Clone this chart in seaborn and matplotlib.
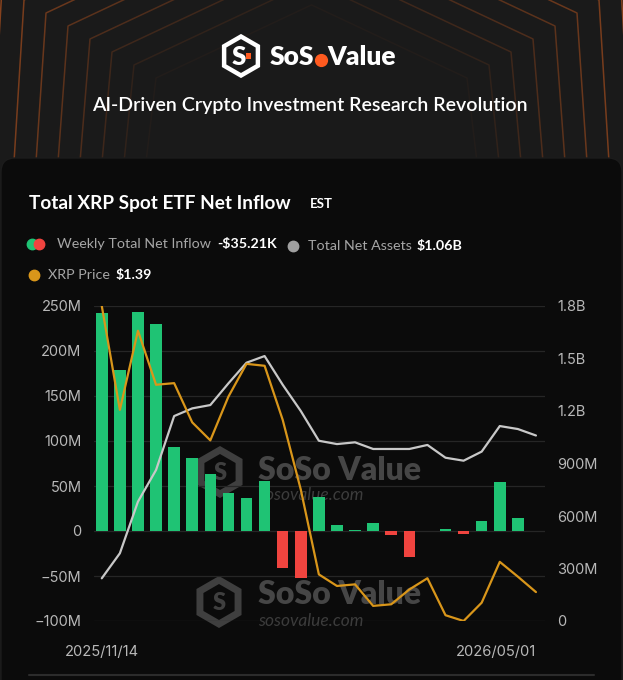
import numpy as np
import pandas as pd
import matplotlib.pyplot as plt
import seaborn as sns
from matplotlib.patches import FancyBboxPatch, RegularPolygon, Rectangle
from matplotlib.lines import Line2D

# weekly data
dates = ["2025/11/14", "2025/11/21", "2025/11/28", "2025/12/05", "2025/12/12",
         "2025/12/19", "2025/12/26", "2026/01/02", "2026/01/09", "2026/01/16",
         "2026/01/23", "2026/01/30", "2026/02/06", "2026/02/13", "2026/02/20",
         "2026/02/27", "2026/03/06", "2026/03/13", "2026/03/20", "2026/03/27",
         "2026/04/03", "2026/04/10", "2026/04/17", "2026/04/24", "2026/05/01"]
net_inflow_m = [242.6, 179.0, 243.0, 230.0, 93.0, 80.7, 63.3, 42.6, 37.0, 55.9,
                -40.7, -51.8, 38.0, 6.7, 1.3, 8.5, -4.4, -28.5, 0.5, 2.2,
                -3.7, 11.0, 55.0, 15.0, -0.03521]
net_assets_b = [0.244, 0.387, 0.682, 0.863, 1.171, 1.215, 1.234, 1.358, 1.476, 1.514,
                1.350, 1.200, 1.030, 1.011, 1.021, 0.983, 0.983, 0.983, 1.006, 0.933,
                0.916, 0.968, 1.114, 1.097, 1.060]
xrp_price = [2.280, 1.957, 2.203, 2.035, 2.040, 1.918, 1.862, 1.998, 2.100, 2.094,
             1.926, 1.709, 1.445, 1.409, 1.414, 1.347, 1.352, 1.398, 1.433, 1.318,
             1.300, 1.357, 1.484, 1.438, 1.390]

left_ticks = [250, 200, 150, 100, 50, 0, -50, -100]
left_labels = ["250M", "200M", "150M", "100M", "50M", "0", "\u221250M", "\u2212100M"]
right_ticks = [1.8, 1.5, 1.2, 0.9, 0.6, 0.3, 0]
right_labels = ["1.8B", "1.5B", "1.2B", "900M", "600M", "300M", "0"]

GREEN = "#1fc374"
RED = "#f0443f"
ORANGE = "#d9961a"
GREY_LINE = "#c8c8c8"
TICK = "#b8b8b8"

sns.set_style("dark")
plt.rcParams['font.family'] = ['Lato', 'DejaVu Sans']

W, H = 623, 680
fig = plt.figure(figsize=(W / 100, H / 100), dpi=100)
fig.patch.set_facecolor("#1a1a1a")

# background layer in pixel coordinates (y down)
bg = fig.add_axes([0, 0, 1, 1], zorder=0)
bg.set_xlim(0, W)
bg.set_ylim(H, 0)
bg.axis("off")

# header line pattern
cx = 311.5
for k in range(9):
    xb = 146 - 22 * k
    xc = xb + 10
    yc = 78 - 13 * k
    ya = yc - 0.47 * (cx - xc)
    xs = [xb, xc, cx, 2 * cx - xc, 2 * cx - xb]
    ys = [162, yc, ya, yc, 162]
    bg.plot(xs, ys, color="#c2581f", lw=1.1, alpha=0.05 + 0.085 * k, zorder=1)

# card
bg.add_patch(FancyBboxPatch((1, 158), W - 2, 560, boxstyle="round,pad=0,rounding_size=14",
                            facecolor="#0b0b0b", edgecolor="#1c1c1c", lw=1, zorder=2))
bg.plot([29, 594], [675, 675], color="#2c2c2c", lw=1.5, zorder=3)


def logo_icon(x, y, r, color, face, lw, accent=None, z=4):
    bg.add_patch(RegularPolygon((x, y), 6, radius=r, facecolor=face,
                                edgecolor=color, lw=lw, zorder=z))
    bg.text(x - r * 0.12, y + r * 0.05, "S", color=color, fontsize=r * 0.95,
            fontweight="heavy", ha="center", va="center", zorder=z + 1)
    if accent:
        bg.add_patch(Rectangle((x + r * 0.25, y - r * 0.15), r * 0.28, r * 0.28,
                               facecolor=accent, edgecolor="none", zorder=z + 1))


# header logo
logo_icon(241, 56, 19.5, "white", "#1a1a1a", 3.2, accent="#ff5a1f")
fig.canvas.draw()
rend = fig.canvas.get_renderer()
inv = bg.transData.inverted()
t1 = bg.text(270, 57, "SoS", color="white", fontsize=19, fontweight="heavy",
             ha="left", va="center", zorder=5)
x1 = inv.transform((t1.get_window_extent(rend).x1, 0))[0]
bg.add_line(Line2D([x1 + 6.5], [60], marker="o", ms=8.5, color="#ff5a1f",
                   linestyle="none", zorder=5))
bg.text(x1 + 13, 57, "Value", color="white", fontsize=19, fontweight="heavy",
        ha="left", va="center", zorder=5)

bg.text(cx - 2, 105, "AI-Driven Crypto Investment Research Revolution", color="white",
        fontsize=14.1, fontweight="semibold", ha="center", va="center", zorder=5)

# card title and legend
bg.text(29, 204, "Total XRP Spot ETF Net Inflow", color="white", fontsize=13.7,
        fontweight="bold", ha="left", va="center", zorder=5)
bg.text(310, 204, "EST", color="white", fontsize=9.5, fontweight="bold",
        ha="left", va="center", zorder=5)

def dot(x, y, c, ms=7.5):
    bg.add_line(Line2D([x], [y], marker="o", ms=ms, color=c, linestyle="none", zorder=5))

dot(32, 244, GREEN)
dot(38.5, 244, RED)
bg.text(57, 244, "Weekly Total Net Inflow", color="#a6a6a6", fontsize=10.3,
        ha="left", va="center", zorder=5)
bg.text(217, 244, "-$35.21K", color="white", fontsize=10.3, fontweight="bold",
        ha="left", va="center", zorder=5)
dot(293, 246, "#a0a0a0")
bg.text(308, 246, "Total Net Assets", color="#a6a6a6", fontsize=10.3,
        ha="left", va="center", zorder=5)
bg.text(417, 246, "$1.06B", color="white", fontsize=10.3, fontweight="bold",
        ha="left", va="center", zorder=5)
dot(34, 275, ORANGE)
bg.text(48, 275, "XRP Price", color="#a6a6a6", fontsize=10.3,
        ha="left", va="center", zorder=5)
bg.text(116, 275, "$1.39", color="white", fontsize=10.3, fontweight="bold",
        ha="left", va="center", zorder=5)

# watermarks behind the chart
for (ix, iy, ty, uy) in [(220, 472, 470, 495), (219, 602, 595, 621)]:
    bg.add_patch(RegularPolygon((ix, iy), 6, radius=22, facecolor="none",
                                edgecolor="#3f3f3f", lw=5, zorder=3))
    bg.text(ix, iy + 1, "S", color="#3f3f3f", fontsize=17, fontweight="heavy",
            ha="center", va="center", zorder=3)
    bg.text(258, ty, "SoSo Value", color="#464646", fontsize=23, fontweight="heavy",
            ha="left", va="center", zorder=3)
    bg.text(258, uy, "sosovalue.com", color="#3c3c3c", fontsize=12.5, style="italic",
            ha="left", va="center", zorder=3)

# chart axes
ax = fig.add_axes([94 / W, 1 - 621 / H, 451 / W, 315 / H], zorder=1)
ax.patch.set_visible(False)

df = pd.DataFrame({"date": dates, "inflow": net_inflow_m})
df["sign"] = np.where(df["inflow"] >= 0, "pos", "neg")
sns.barplot(data=df, x="date", y="inflow", hue="sign", palette={"pos": GREEN, "neg": RED},
            dodge=False, legend=False, width=0.64, saturation=1, linewidth=0,
            ax=ax, zorder=2)

pos = np.arange(len(dates))
ax2 = ax.twinx()
ax2.set_zorder(2)
ax2.patch.set_visible(False)
sns.lineplot(x=pos, y=net_assets_b, ax=ax2, color=GREY_LINE, lw=1.6)

ax3 = ax.twinx()
ax3.set_zorder(3)
ax3.patch.set_visible(False)
sns.lineplot(x=pos, y=xrp_price, ax=ax3, color=ORANGE, lw=1.6)
ax3.set_ylim(min(xrp_price), max(xrp_price))
ax3.set_yticks([])

ax.set_xlim(-0.43, len(dates) - 0.5)
ax.set_ylim(-100, 250)
ax2.set_ylim(0, 1.8)

ax.set_yticks(left_ticks, left_labels, fontfamily="Inter", fontsize=10.5, color=TICK)
ax2.set_yticks(right_ticks, right_labels, fontfamily="Inter", fontsize=10.5, color=TICK)
ax.set_xticks([0, len(dates) - 1], [dates[0], dates[-1]], fontfamily="Inter",
              fontsize=10.6, color=TICK)
ax.get_xticklabels()[1].set_ha("right")

ax.grid(axis="y", color="#262626", lw=0.9)
ax.grid(axis="x", visible=False)
ax.set_axisbelow(True)
ax2.grid(False)
ax3.grid(False)
ax.tick_params(axis="y", length=0, pad=9)
ax.tick_params(axis="x", length=0, pad=17)
ax2.tick_params(axis="y", length=0, pad=9)
for a in (ax, ax2, ax3):
    a.set_xlabel("")
    a.set_ylabel("")
    for s in a.spines.values():
        s.set_visible(False)

fig.savefig("out.png", dpi=100, facecolor=fig.get_facecolor())
